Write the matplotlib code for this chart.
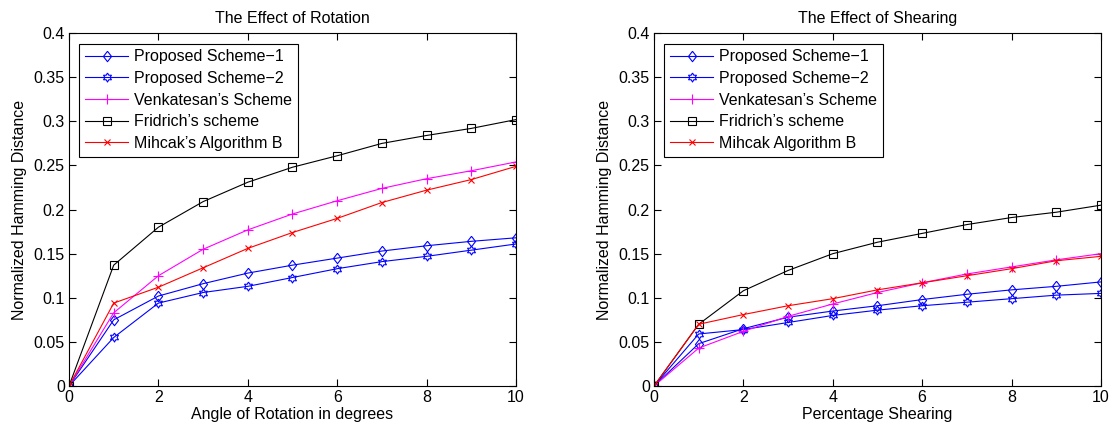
import numpy as np
import matplotlib
matplotlib.use("Agg")
import matplotlib.pyplot as plt

plt.rcParams['font.family'] = ['Liberation Sans', 'DejaVu Sans']
plt.rcParams['font.size'] = 11.5

x = np.arange(0, 11)

# rotation (left panel)
rot_ps1 = [0, 0.075, 0.102, 0.116, 0.128, 0.137, 0.145, 0.153, 0.159, 0.164, 0.168]
rot_ps2 = [0, 0.055, 0.094, 0.106, 0.113, 0.123, 0.133, 0.141, 0.147, 0.154, 0.161]
rot_venk = [0, 0.083, 0.125, 0.155, 0.177, 0.195, 0.210, 0.224, 0.235, 0.244, 0.254]
rot_frid = [0, 0.137, 0.180, 0.209, 0.231, 0.248, 0.261, 0.275, 0.284, 0.292, 0.302]
rot_mihc = [0, 0.094, 0.112, 0.134, 0.156, 0.174, 0.190, 0.208, 0.222, 0.234, 0.249]

# shearing (right panel)
sh_ps1 = [0, 0.048, 0.065, 0.078, 0.085, 0.091, 0.098, 0.104, 0.109, 0.113, 0.118]
sh_ps2 = [0, 0.059, 0.064, 0.072, 0.080, 0.086, 0.091, 0.095, 0.099, 0.103, 0.105]
sh_venk = [0, 0.043, 0.062, 0.079, 0.093, 0.106, 0.117, 0.127, 0.135, 0.143, 0.150]
sh_frid = [0, 0.070, 0.108, 0.131, 0.150, 0.163, 0.173, 0.183, 0.191, 0.197, 0.205]
sh_mihc = [0, 0.070, 0.081, 0.091, 0.099, 0.109, 0.117, 0.125, 0.133, 0.142, 0.147]

labels_rot = ["Proposed Scheme\u22121", "Proposed Scheme\u22122", "Venkatesan\u2019s Scheme",
              "Fridrich\u2019s scheme", "Mihcak\u2019s Algorithm B"]
labels_sh = ["Proposed Scheme\u22121", "Proposed Scheme\u22122", "Venkatesan\u2019s Scheme",
             "Fridrich\u2019s scheme", "Mihcak Algorithm B"]

# matlab-like markers: tall diamond and hexagram
diamond = [(0, 1), (0.78, 0), (0, -1), (-0.78, 0), (0, 1)]
ang = np.deg2rad(90 + 30 * np.arange(13))
rad = np.where(np.arange(13) % 2 == 0, 1.0, 1 / np.sqrt(3))
hexagram = list(zip(rad * np.cos(ang), rad * np.sin(ang)))

styles = [('#0000ff', diamond, 7.5), ('#0000ff', hexagram, 6.5), ('#ff00ff', '+', 6.5),
          ('k', 's', 5.3), ('#ff0000', 'x', 4.5)]

fig = plt.figure(figsize=(11.13, 4.33), dpi=100)
ax1 = fig.add_axes([0.062, 0.1085, 0.4016, 0.815])
ax2 = fig.add_axes([0.5876, 0.1085, 0.4016, 0.815])

def panel(ax, series, labels, title, xlabel):
    for ys, lab, (c, m, ms) in zip(series, labels, styles):
        ax.plot(x, ys, color=c, marker=m, markersize=ms, markerfacecolor='none',
                markeredgecolor=c, linewidth=0.8, markeredgewidth=0.8, label=lab)
    ax.set_xlim(0, 10)
    ax.set_ylim(0, 0.4)
    ax.set_xticks(np.arange(0, 11, 2))
    ax.set_yticks(np.arange(0, 0.401, 0.05))
    ax.set_yticklabels(['0', '0.05', '0.1', '0.15', '0.2', '0.25', '0.3', '0.35', '0.4'])
    ax.tick_params(direction='in', top=True, right=True, length=5, width=0.8, pad=3)
    for s in ax.spines.values():
        s.set_linewidth(0.8)
    ax.set_title(title, fontsize=11.5, pad=7)
    ax.set_xlabel(xlabel, labelpad=1)
    ax.set_ylabel("Normalized Hamming Distance", labelpad=5)
    leg = ax.legend(loc='upper left', fancybox=False, edgecolor='k', framealpha=1,
                    handlelength=2.7, labelspacing=0.42, borderaxespad=0.65,
                    handletextpad=0.4, borderpad=0.35)
    leg.get_frame().set_linewidth(0.8)

panel(ax1, [rot_ps1, rot_ps2, rot_venk, rot_frid, rot_mihc], labels_rot,
      "The Effect of Rotation", "Angle of Rotation in degrees")
panel(ax2, [sh_ps1, sh_ps2, sh_venk, sh_frid, sh_mihc], labels_sh,
      "The Effect of Shearing", "Percentage Shearing")

fig.savefig("out.png", dpi=100)
